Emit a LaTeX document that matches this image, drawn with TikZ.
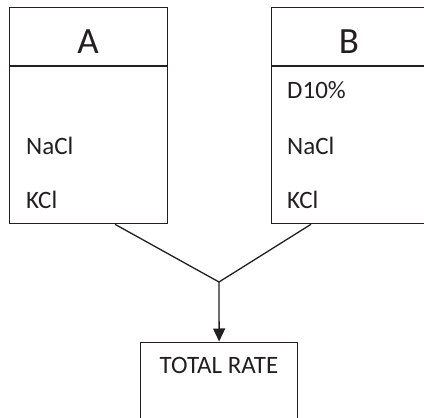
\documentclass[tikz,border=0pt]{standalone}
\usepackage{fontspec}
\setmainfont{Carlito}
\usetikzlibrary{arrows.meta,positioning}
\definecolor{ink}{HTML}{231F20}
\tikzset{
  panel/.style={draw=ink, line width=1.3pt, minimum width=158pt,
    minimum height=216pt, inner sep=0pt, anchor=north west},
  item/.style={font=\fontsize{25}{30}\selectfont, text=ink,
    anchor=base west, inner sep=0pt},
  title/.style={font=\fontsize{37}{42}\selectfont, text=ink,
    anchor=base, inner sep=0pt},
  link/.style={draw=ink, line width=1.3pt}
}

\begin{document}
\begin{tikzpicture}[x=1pt,y=-1pt]
\useasboundingbox (0,0) rectangle (424,418);
\clip (0,0) rectangle (424,418);

\node[panel] (boxA) at (9,7) {};
\node[panel] (boxB) at (271,7) {};
\draw[link] ([yshift=-59pt]boxA.north west) -- ([yshift=-59pt]boxA.north east);
\draw[link] ([yshift=-59pt]boxB.north west) -- ([yshift=-59pt]boxB.north east);

\node[title] (titleA) at (88,53) {A};
\node[title] (titleB) at (349,53) {B};

\node[item] (naclA) at (26,154) {NaCl};
\node[item] (kclA) at (26,208) {KCl};
\node[item] (dexB) at (287,98) {D10\%};
\node[item] (naclB) at (287,154) {NaCl};
\node[item] (kclB) at (287,208) {KCl};

\node[panel, minimum width=157pt, minimum height=90pt] (total) at (140,341.5) {};
\node[item, anchor=base] (totalText) at (219,373) {TOTAL RATE};

\coordinate (merge) at (219,282);
\draw[link] ([xshift=106pt]boxA.south west) -- (merge);
\draw[link] ([xshift=40pt]boxB.south west) -- (merge);
\draw[link, -{Triangle[width=12pt,length=13pt]}] (merge) -- (total.north);
\end{tikzpicture}
\end{document}
